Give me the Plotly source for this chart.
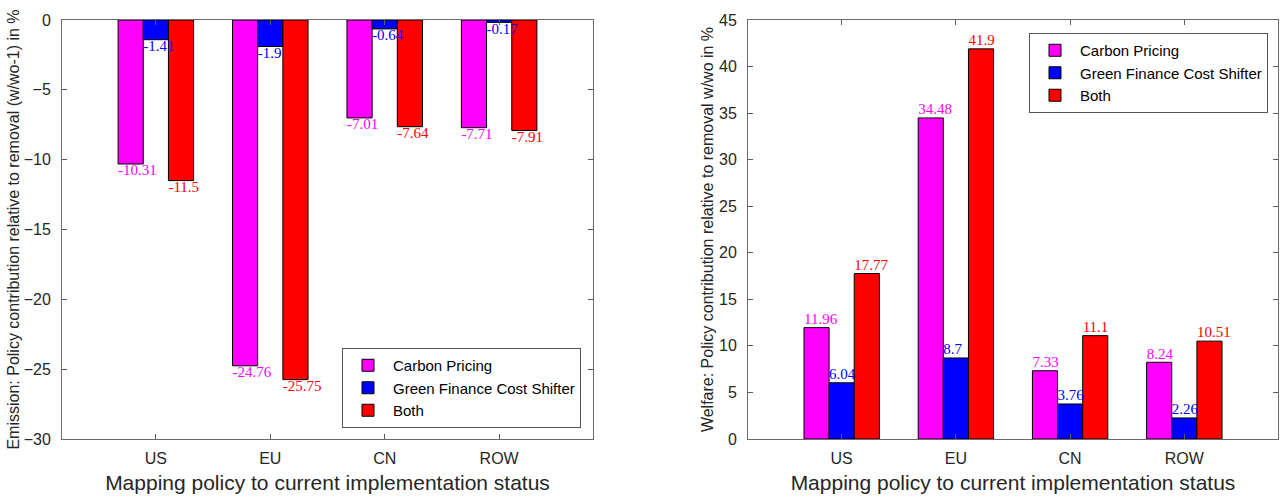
import plotly.graph_objects as go

regions = ["US", "EU", "CN", "ROW"]
series_names = ["Carbon Pricing", "Green Finance Cost Shifter", "Both"]
colors = ["#FF00FF", "#0000FF", "#FF0000"]

emission = {
    "Carbon Pricing": [-10.31, -24.76, -7.01, -7.71],
    "Green Finance Cost Shifter": [-1.41, -1.9, -0.64, -0.17],
    "Both": [-11.5, -25.75, -7.64, -7.91],
}
welfare = {
    "Carbon Pricing": [11.96, 34.48, 7.33, 8.24],
    "Green Finance Cost Shifter": [6.04, 8.7, 3.76, 2.26],
    "Both": [17.77, 41.9, 11.1, 10.51],
}

emission_ticks = [0, -5, -10, -15, -20, -25, -30]
welfare_ticks = [0, 5, 10, 15, 20, 25, 30, 35, 40, 45]

xpos = [1, 2, 3, 4]
bar_w = 0.22
offsets = [-0.33, -0.11, 0.11]

fig = go.Figure()

def add_panel(data, xaxis, yaxis, legend, positive):
    for i, name in enumerate(series_names):
        fig.add_trace(go.Bar(
            x=xpos, y=data[name], name=name,
            width=bar_w, offset=offsets[i],
            marker=dict(color=colors[i], line=dict(color="black", width=1)),
            xaxis=xaxis, yaxis=yaxis, legend=legend,
        ))
    for i, name in enumerate(series_names):
        fig.add_trace(go.Scatter(
            x=[p + offsets[i] for p in xpos], y=data[name],
            mode="text", text=[f"{v:g}" for v in data[name]],
            textposition="top right" if positive else "bottom right",
            textfont=dict(family="Liberation Serif", size=15, color=colors[i]),
            showlegend=False, hoverinfo="skip", cliponaxis=False,
            xaxis=xaxis, yaxis=yaxis,
        ))

add_panel(emission, "x", "y", "legend", False)
add_panel(welfare, "x2", "y2", "legend2", True)

axis_common = dict(
    showline=True, linecolor="#6a6a6a", linewidth=1, mirror="ticks",
    ticks="inside", ticklen=5, tickcolor="#5a5a5a",
    showgrid=False, zeroline=False, automargin=False,
    tickfont=dict(family="Liberation Sans", size=16, color="#262626"),
)
xtitle_font = dict(family="Liberation Sans", size=21, color="#262626")
ytitle_font = dict(family="Liberation Sans", size=16, color="#262626")
xrange = [0.18, 4.82]
ydom = [1 - 439/499, 1 - 20/499]

fig.update_layout(
    width=1280, height=499,
    margin=dict(l=0, r=0, t=0, b=0),
    paper_bgcolor="white", plot_bgcolor="white",
    barmode="overlay",
    xaxis=dict(domain=[62/1280, 593/1280], range=xrange,
               tickvals=xpos, ticktext=regions, ticklabelstandoff=5,
               title=dict(text="Mapping policy to current implementation status",
                          font=xtitle_font, standoff=9),
               anchor="y", **axis_common),
    yaxis=dict(domain=ydom, range=[-30, 0],
               tickvals=emission_ticks, ticklabelstandoff=7,
               title=dict(text="Emission: Policy contribution relative to removal (w/wo-1) in %",
                          font=ytitle_font, standoff=0),
               anchor="x", **axis_common),
    xaxis2=dict(domain=[748/1280, 1278/1280], range=xrange,
                tickvals=xpos, ticktext=regions, ticklabelstandoff=5,
                title=dict(text="Mapping policy to current implementation status",
                           font=xtitle_font, standoff=9),
                anchor="y2", **axis_common),
    yaxis2=dict(domain=ydom, range=[0, 45],
                tickvals=welfare_ticks, ticklabelstandoff=7,
                title=dict(text="Welfare: Policy contribution relative to removal w/wo in %",
                           font=ytitle_font, standoff=1),
                anchor="x2", **axis_common),
    legend=dict(x=581/1280, xanchor="right", y=1-428/499, yanchor="bottom",
                bordercolor="#555555", borderwidth=1, bgcolor="white",
                font=dict(family="Liberation Sans", size=15, color="#000000"),
                tracegroupgap=0, itemwidth=40),
    legend2=dict(x=1268/1280, xanchor="right", y=1-33/499, yanchor="top",
                 bordercolor="#555555", borderwidth=1, bgcolor="white",
                 font=dict(family="Liberation Sans", size=15, color="#000000"),
                 tracegroupgap=0, itemwidth=40),
)

fig.write_html("out.html")
